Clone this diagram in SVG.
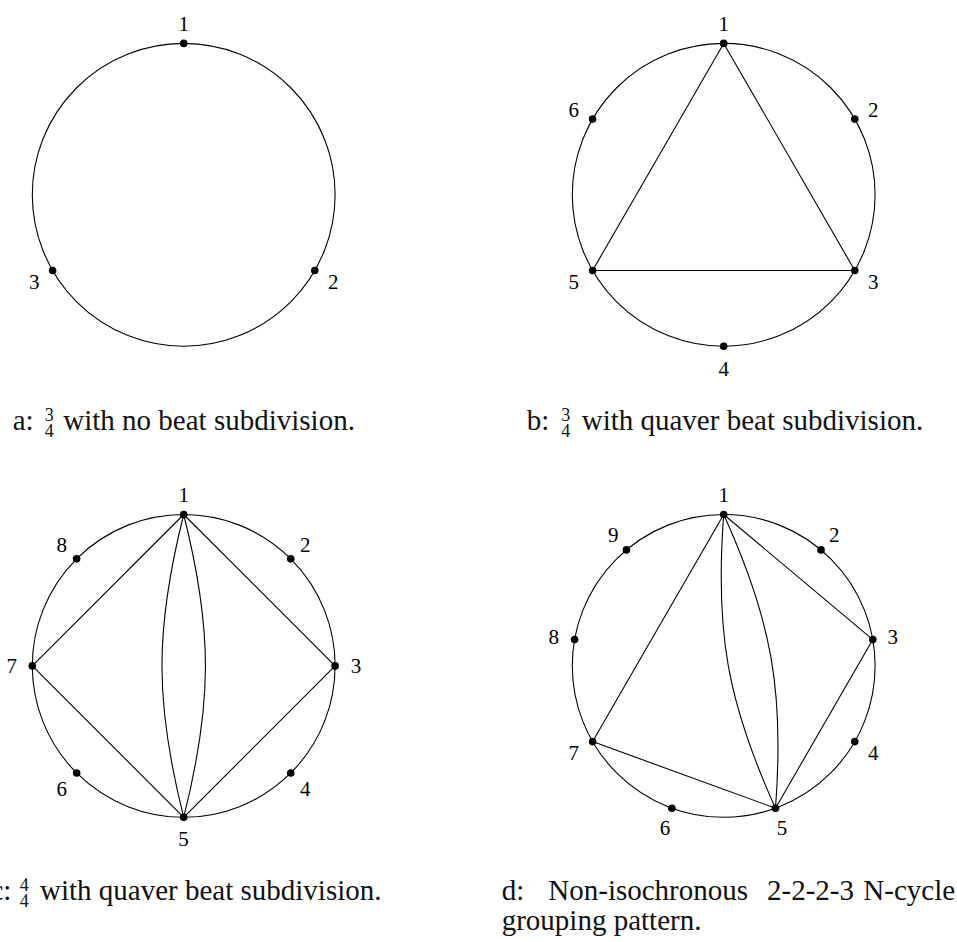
<svg xmlns="http://www.w3.org/2000/svg" width="957" height="942" viewBox="0 0 957 942">
<style>
.ring{fill:none;stroke:#000;stroke-width:1.1}
.edge{fill:none;stroke:#000;stroke-width:1.1}
.dot{fill:#000}
.lbl{font-family:"Liberation Serif","Times New Roman",serif;font-size:21px;fill:#000;text-anchor:middle}
.cap{font-family:"Liberation Serif","Times New Roman",serif;font-size:29px;fill:#111}
.frac{font-family:"Liberation Serif","Times New Roman",serif;font-size:18px;fill:#111;text-anchor:middle}
</style>
<rect width="957" height="942" fill="#fff"/>

<!-- Diagram a -->
<g id="diagram-a">
  <circle class="ring" cx="183.7" cy="194.8" r="151.4"/>
  <g id="a-connectors"></g>
  <g id="a-n1"><circle class="dot" cx="183.7" cy="43.4" r="3.8"/><text class="lbl" x="183.7" y="30.7">1</text></g>
  <g id="a-n2"><circle class="dot" cx="314.8" cy="270.5" r="3.8"/><text class="lbl" x="333.3" y="288.7">2</text></g>
  <g id="a-n3"><circle class="dot" cx="52.6" cy="270.5" r="3.8"/><text class="lbl" x="34.3" y="288.7">3</text></g>
</g>

<!-- Diagram b -->
<g id="diagram-b">
  <circle class="ring" cx="723.7" cy="194.8" r="151.4"/>
  <g id="b-connectors">
    <line class="edge" x1="723.7" y1="43.4" x2="854.8" y2="270.5"/>
    <line class="edge" x1="854.8" y1="270.5" x2="592.6" y2="270.5"/>
    <line class="edge" x1="592.6" y1="270.5" x2="723.7" y2="43.4"/>
  </g>
  <g id="b-n1"><circle class="dot" cx="723.7" cy="43.4" r="3.8"/><text class="lbl" x="723.7" y="30.7">1</text></g>
  <g id="b-n2"><circle class="dot" cx="854.8" cy="119.1" r="3.8"/><text class="lbl" x="873.3" y="117.3">2</text></g>
  <g id="b-n3"><circle class="dot" cx="854.8" cy="270.5" r="3.8"/><text class="lbl" x="873.3" y="288.7">3</text></g>
  <g id="b-n4"><circle class="dot" cx="723.7" cy="346.2" r="3.8"/><text class="lbl" x="723.7" y="376">4</text></g>
  <g id="b-n5"><circle class="dot" cx="592.6" cy="270.5" r="3.8"/><text class="lbl" x="573.8" y="288.7">5</text></g>
  <g id="b-n6"><circle class="dot" cx="592.6" cy="119.1" r="3.8"/><text class="lbl" x="573.8" y="117.3">6</text></g>
</g>

<!-- Diagram c -->
<g id="diagram-c">
  <circle class="ring" cx="183.7" cy="665.9" r="151.4"/>
  <g id="c-connectors">
    <line class="edge" x1="183.7" y1="514.5" x2="335.1" y2="665.9"/>
    <line class="edge" x1="335.1" y1="665.9" x2="183.7" y2="817.3"/>
    <line class="edge" x1="183.7" y1="817.3" x2="32.3" y2="665.9"/>
    <line class="edge" x1="32.3" y1="665.9" x2="183.7" y2="514.5"/>
    <path class="edge" d="M183.7,514.5 C154.7,629.6 154.7,702.2 183.7,817.3"/>
    <path class="edge" d="M183.7,514.5 C212.7,629.6 212.7,702.2 183.7,817.3"/>
  </g>
  <g id="c-n1"><circle class="dot" cx="183.7" cy="514.5" r="3.8"/><text class="lbl" x="183.7" y="502">1</text></g>
  <g id="c-n2"><circle class="dot" cx="290.75" cy="558.85" r="3.8"/><text class="lbl" x="305.3" y="552">2</text></g>
  <g id="c-n3"><circle class="dot" cx="335.1" cy="665.9" r="3.8"/><text class="lbl" x="356" y="673">3</text></g>
  <g id="c-n4"><circle class="dot" cx="290.75" cy="772.95" r="3.8"/><text class="lbl" x="305.3" y="796">4</text></g>
  <g id="c-n5"><circle class="dot" cx="183.7" cy="817.3" r="3.8"/><text class="lbl" x="183.5" y="846">5</text></g>
  <g id="c-n6"><circle class="dot" cx="76.65" cy="772.95" r="3.8"/><text class="lbl" x="61.7" y="796">6</text></g>
  <g id="c-n7"><circle class="dot" cx="32.3" cy="665.9" r="3.8"/><text class="lbl" x="11.7" y="673">7</text></g>
  <g id="c-n8"><circle class="dot" cx="76.65" cy="558.85" r="3.8"/><text class="lbl" x="61.7" y="552">8</text></g>
</g>

<!-- Diagram d -->
<g id="diagram-d">
  <circle class="ring" cx="723.7" cy="665.9" r="151.4"/>
  <g id="d-connectors">
    <line class="edge" x1="723.7" y1="514.5" x2="872.8" y2="639.6"/>
    <line class="edge" x1="872.8" y1="639.6" x2="775.5" y2="808.2"/>
    <line class="edge" x1="775.5" y1="808.2" x2="592.6" y2="741.6"/>
    <line class="edge" x1="592.6" y1="741.6" x2="723.7" y2="514.5"/>
    <path class="edge" d="M723.7,514.5 C714.84,631.14 727.24,701.64 775.5,808.2"/>
    <path class="edge" d="M723.7,514.5 C771.96,621.06 784.36,691.56 775.5,808.2"/>
  </g>
  <g id="d-n1"><circle class="dot" cx="723.7" cy="514.5" r="3.8"/><text class="lbl" x="723.7" y="502.3">1</text></g>
  <g id="d-n2"><circle class="dot" cx="821.0" cy="549.9" r="3.8"/><text class="lbl" x="834.2" y="541.7">2</text></g>
  <g id="d-n3"><circle class="dot" cx="872.8" cy="639.6" r="3.8"/><text class="lbl" x="892.8" y="644">3</text></g>
  <g id="d-n4"><circle class="dot" cx="854.8" cy="741.6" r="3.8"/><text class="lbl" x="873.3" y="760">4</text></g>
  <g id="d-n5"><circle class="dot" cx="775.5" cy="808.2" r="3.8"/><text class="lbl" x="782" y="835">5</text></g>
  <g id="d-n6"><circle class="dot" cx="671.9" cy="808.2" r="3.8"/><text class="lbl" x="665" y="835">6</text></g>
  <g id="d-n7"><circle class="dot" cx="592.6" cy="741.6" r="3.8"/><text class="lbl" x="573.8" y="760">7</text></g>
  <g id="d-n8"><circle class="dot" cx="574.6" cy="639.6" r="3.8"/><text class="lbl" x="553.7" y="644">8</text></g>
  <g id="d-n9"><circle class="dot" cx="626.4" cy="549.9" r="3.8"/><text class="lbl" x="613.3" y="541.7">9</text></g>
</g>

<!-- Captions -->
<g id="caption-a">
  <text class="cap" x="12.7" y="430">a:</text>
  <text class="frac"><tspan x="49.2" y="420.7">3</tspan><tspan x="49.2" y="437.3">4</tspan></text>
  <text class="cap" x="63.3" y="430">with no beat subdivision.</text>
</g>
<g id="caption-b">
  <text class="cap" x="526.7" y="430">b:</text>
  <text class="frac"><tspan x="565.8" y="420.7">3</tspan><tspan x="565.8" y="437.3">4</tspan></text>
  <text class="cap" x="581.7" y="430">with quaver beat subdivision.</text>
</g>
<g id="caption-c">
  <text class="cap" x="-9.6" y="900">c:</text>
  <text class="frac"><tspan x="24.2" y="890.7">4</tspan><tspan x="24.2" y="907.3">4</tspan></text>
  <text class="cap" x="40" y="900">with quaver beat subdivision.</text>
</g>
<g id="caption-d">
  <text class="cap" x="501.7" y="900">d:</text>
  <text class="cap" x="548.3" y="900">Non-isochronous</text>
  <text class="cap" x="767" y="900">2-2-2-3</text>
  <text class="cap" x="863.3" y="900">N-cycle</text>
  <text class="cap" x="501.7" y="930">grouping pattern.</text>
</g>
</svg>
